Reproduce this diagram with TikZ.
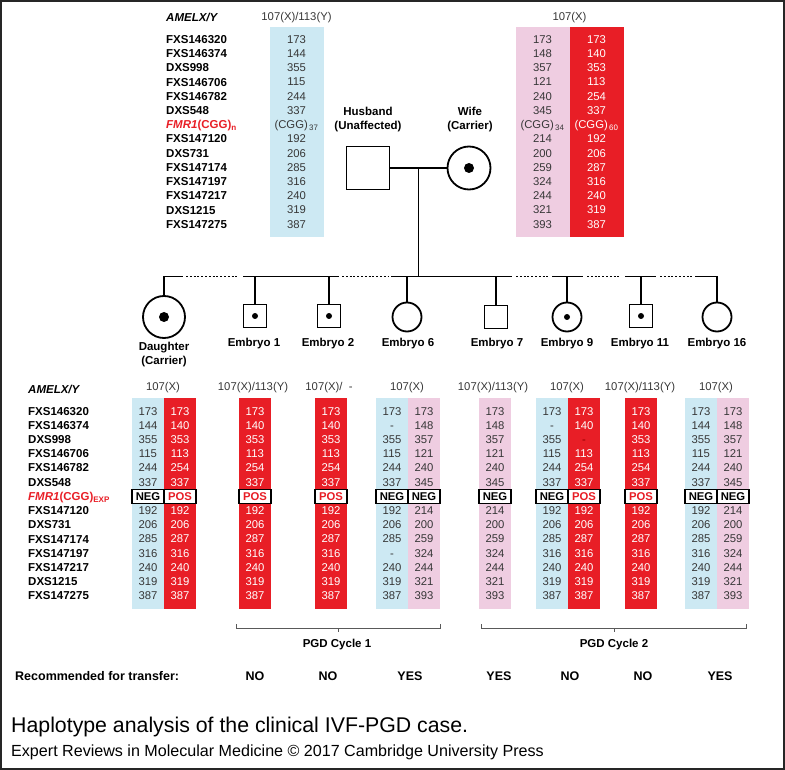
\documentclass[tikz,border=0pt]{standalone}
\usepackage{fontspec}
\setmainfont{Liberation Sans}
\usepackage{xcolor}
\usetikzlibrary{calc}

\definecolor{hapblue}{RGB}{205,233,243}
\definecolor{happink}{RGB}{239,205,225}
\definecolor{hapred}{RGB}{232,30,38}
\definecolor{valtext}{RGB}{55,55,55}

% marker names down one side of a table
\newcommand{\markercol}[4]{%
  \foreach \m [count=\r] in {FXS146320,FXS146374,DXS998,FXS146706,FXS146782,DXS548,
      {\textcolor{hapred}{\textit{FMR1}(CGG)\textsubscript{#4}}},
      FXS147120,DXS731,FXS147174,FXS147197,FXS147217,DXS1215,FXS147275}
    \node[marker] (#1-\r) at (#2,{#3+14.22*(\r-1)}) {\m};}

% parent haplotype column
\newcommand{\topcol}[5]{%
  \fill[#3] ({#2-27},27) rectangle ({#2+27},237);
  \foreach \v [count=\r] in {#5}
    \node[val, text=#4] (#1-\r) at (#2,{39.3+14.22*(\r-1)}) {\v};}

% embryo haplotype column, row 7 is the FMR1 call
\newcommand{\lowcol}[6]{%
  \fill[#3] ({#2-16},398) rectangle ({#2+16},609);
  \foreach \v [count=\r] in {#6}{
    \ifnum\r=7
      \node[fmrbox, text=#5] (#1-\r) at (#2,{411+14.22*(\r-1)}) {\v};
    \else
      \node[val, text=#4] (#1-\r) at (#2,{411+14.22*(\r-1)}) {\v};
    \fi}}

\begin{document}
\begin{tikzpicture}[x=1pt, y=-1pt,
  marker/.style={anchor=west, inner sep=0, text height=8.2pt, text depth=0pt,
    font=\bfseries\fontsize{11.5}{13}\selectfont},
  locus/.style={marker, font=\bfseries\itshape\fontsize{11.5}{13}\selectfont},
  val/.style={inner sep=0, text height=8pt, text depth=0pt, font=\fontsize{11.3}{13}\selectfont},
  hdr/.style={val, text=valtext},
  fmrbox/.style={draw=black, line width=1.3pt, fill=white, minimum width=32pt,
    minimum height=14pt, inner sep=0, font=\bfseries\fontsize{11.3}{13}\selectfont},
  pedlab/.style={align=center, inner sep=0, font=\bfseries\fontsize{11.5}{14}\selectfont},
  male/.style={rectangle, draw, line width=1.8pt, inner sep=0, minimum size=#1},
  female/.style={circle, draw, line width=1.8pt, inner sep=0, minimum size=#1},
  carrier/.style={path picture={\fill (path picture bounding box.center) circle (#1);}},
  kin/.style={line width=1.8pt},
  gap/.style={line width=1.8pt, dash pattern=on 2pt off 1.8pt},
  brace/.style={draw=black!65, line width=0.9pt},
  verdict/.style={inner sep=0, font=\bfseries\fontsize{12.5}{14}\selectfont}
]
\useasboundingbox (0,0) rectangle (785,770);
\draw[line width=2pt, black!85] (1,1) rectangle (784,769);

% parents' haplotypes
\node[locus] (amel-top) at (166,17) {AMELX/Y};
\node[hdr] (hdr-hus) at (296.5,17) {107(X)/113(Y)};
\node[hdr] (hdr-wif) at (569.5,17) {107(X)};
\markercol{mtop}{166}{39.3}{n}
\topcol{hus}{296.5}{hapblue}{valtext}{173,144,355,115,244,337,{(CGG)\textsubscript{\,37}},192,206,285,316,240,319,387}
\topcol{wifa}{542.5}{happink}{valtext}{173,148,357,121,240,345,{(CGG)\textsubscript{\,34}},214,200,259,324,244,321,393}
\topcol{wifb}{596.5}{hapred}{white}{173,140,353,113,254,337,{(CGG)\textsubscript{\,60}},192,206,287,316,240,319,387}

% pedigree
\node[pedlab] (hus-lab) at (368,120) {Husband\\(Unaffected)};
\node[pedlab] (wif-lab) at (470,120) {Wife\\(Carrier)};
\node[male=43pt] (husband) at (368,168) {};
\node[female=43pt, carrier=5pt] (wife) at (469,168) {};
\coordinate (sib) at (0,276.5);
\coordinate (mate) at ($(husband.east)!0.5!(wife.west)$);
\draw[kin] (husband.east) -- (wife.west);
\draw[kin] (mate) -- (mate |- sib);

\node[female=42pt, carrier=5pt] (daughter) at (164,317) {};
\node[male=23pt, carrier=3pt] (emb1) at (255,316) {};
\node[male=23pt, carrier=3pt] (emb2) at (329,316) {};
\node[female=29pt] (emb6) at (407,317) {};
\node[male=23pt] (emb7) at (496,317) {};
\node[female=29pt, carrier=3pt] (emb9) at (567,317) {};
\node[male=23pt, carrier=3pt] (emb11) at (641,316) {};
\node[female=29pt] (emb16) at (717,317) {};

\draw[kin] (daughter.north) |- (183,276.5);
\foreach \a/\b in {243/339,391/512,552/583,625/656}
  \draw[kin] (\a,276.5) -- (\b,276.5);
\draw[kin] (695,276.5) -| (emb16.north);
\foreach \a/\b in {186/239,342/388,516/548,587/621,660/692}
  \draw[gap] (\a,276.5) -- (\b,276.5);
\foreach \e in {emb1,emb2,emb6,emb7,emb9,emb11}
  \draw[kin] (\e.north) -- (\e.north |- sib);

\node[pedlab] (dau-lab) at (164,355) {Daughter\\(Carrier)};
\foreach \e/\n/\x in {emb1/1/254,emb2/2/328,emb6/6/408,emb7/7/497,emb9/9/567,emb11/11/640,emb16/16/717}
  \node[pedlab] (\e-lab) at (\x,344) {Embryo \n};

% offspring haplotypes
\node[locus] (amel-low) at (28,389) {AMELX/Y};
\node[hdr] (hdr-dau) at (163,386) {107(X)};
\node[hdr] (hdr-e1) at (253,386) {107(X)/113(Y)};
\node[hdr] (hdr-e2) at (329,386) {107(X)/\ \ -};
\node[hdr] (hdr-e6) at (407,386) {107(X)};
\node[hdr] (hdr-e7) at (493,386) {107(X)/113(Y)};
\node[hdr] (hdr-e9) at (567,386) {107(X)};
\node[hdr] (hdr-e11) at (640,386) {107(X)/113(Y)};
\node[hdr] (hdr-e16) at (716,386) {107(X)};
\markercol{mlow}{28}{411}{EXP}
\lowcol{daua}{148}{hapblue}{valtext}{black}{173,144,355,115,244,337,NEG,192,206,285,316,240,319,387}
\lowcol{daub}{180}{hapred}{white}{hapred}{173,140,353,113,254,337,POS,192,206,287,316,240,319,387}
\lowcol{e1}{255}{hapred}{white}{hapred}{173,140,353,113,254,337,POS,192,206,287,316,240,319,387}
\lowcol{e2}{331}{hapred}{white}{hapred}{173,140,353,113,254,337,POS,192,206,287,316,240,319,387}
\lowcol{e6a}{392}{hapblue}{valtext}{black}{173,-,355,115,244,337,NEG,192,206,285,-,240,319,387}
\lowcol{e6b}{424}{happink}{valtext}{black}{173,148,357,121,240,345,NEG,214,200,259,324,244,321,393}
\lowcol{e7}{495}{happink}{valtext}{black}{173,148,357,121,240,345,NEG,214,200,259,324,244,321,393}
\lowcol{e9a}{552}{hapblue}{valtext}{black}{173,-,355,115,244,337,NEG,192,206,285,316,240,319,387}
\lowcol{e9b}{584}{hapred}{white}{hapred}{173,140,{\textcolor{red!55!black}{-}},113,254,337,POS,192,206,287,316,240,319,387}
\lowcol{e11}{641}{hapred}{white}{hapred}{173,140,353,113,254,337,POS,192,206,287,316,240,319,387}
\lowcol{e16a}{701}{hapblue}{valtext}{black}{173,144,355,115,244,337,NEG,192,206,285,316,240,319,387}
\lowcol{e16b}{733}{happink}{valtext}{black}{173,148,357,121,240,345,NEG,214,200,259,324,244,321,393}

% cycles and outcome
\draw[brace] (236,624) -- (236,628) -- (440,628) -- (440,624);
\draw[brace] (338,628) -- (338,632);
\draw[brace] (481,624) -- (481,628) -- (746,628) -- (746,624);
\draw[brace] (614,628) -- (614,632);
\node[pedlab] (cyc1) at (337,645) {PGD Cycle 1};
\node[pedlab] (cyc2) at (614,645) {PGD Cycle 2};
\node[verdict, anchor=west] (rec) at (15,676) {Recommended for transfer:};
\foreach \e/\t/\x in {emb1/NO/255,emb2/NO/328,emb6/YES/410,emb7/YES/499,emb9/NO/570,emb11/NO/643,emb16/YES/720}
  \node[verdict] (\e-rec) at (\x,676) {\t};

\node[anchor=west, inner sep=0, font=\fontsize{21.3}{23}\selectfont] (caption) at (11,727)
  {Haplotype analysis of the clinical IVF-PGD case.};
\node[anchor=west, inner sep=0, font=\fontsize{16.1}{18}\selectfont] (credit) at (11,752)
  {Expert Reviews in Molecular Medicine \textcopyright{} 2017 Cambridge University Press};
\end{tikzpicture}
\end{document}
